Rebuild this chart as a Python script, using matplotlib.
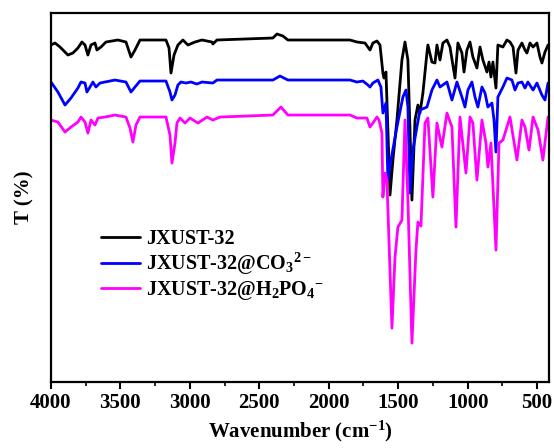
#!/usr/bin/env python3
# -*- coding: utf-8 -*-
"""
JXUST-32 红外光谱图 (FT-IR)
三条曲线: 原始样品, 吸附 CO3 2-, 吸附 H2PO4 -
"""

import matplotlib.pyplot as plt
from matplotlib.ticker import MultipleLocator

# 字体设置 (Times 风格粗体)
plt.rcParams['font.family'] = ['Liberation Serif', 'DejaVu Serif']
plt.rcParams['font.weight'] = 'bold'
plt.rcParams['mathtext.fontset'] = 'custom'
plt.rcParams['mathtext.rm'] = 'Liberation Serif:bold'
plt.rcParams['mathtext.it'] = 'Liberation Serif:bold'
plt.rcParams['mathtext.bf'] = 'Liberation Serif:bold'
plt.rcParams['mathtext.default'] = 'regular'

# ---------------- 数据 (从图中读取, 纵坐标为任意单位) ----------------
wn_black = [4000, 3971, 3935, 3878, 3842, 3806, 3777, 3755, 3734, 3712,
            3683, 3669, 3640, 3604, 3518, 3460, 3424, 3395, 3359, 3172,
            3150, 3136, 3114, 3086, 3050, 3014, 2963, 2913, 2841, 2834,
            2805, 2402, 2373, 2330, 2294, 1847, 1797, 1739, 1703, 1682,
            1653, 1631, 1610, 1602, 1588, 1574, 1559, 1538, 1509, 1473,
            1451, 1430, 1415, 1401, 1379, 1358, 1343, 1322, 1293, 1286,
            1257, 1235, 1221, 1199, 1178, 1149, 1127, 1091, 1070, 1041,
            1026, 1005, 983, 962, 933, 911, 890, 861, 846, 832,
            818, 796, 782, 746, 717, 695, 673, 652, 637, 609,
            587, 573, 551, 529, 501, 479, 465, 443, 421]
t_black = [337, 339, 335, 327, 329, 334, 340, 337, 327, 337,
           339, 332, 335, 340, 342, 340, 325, 332, 342, 342,
           334, 309, 327, 337, 342, 337, 340, 342, 340, 338,
           342, 344, 348, 346, 342, 342, 340, 339, 332, 339,
           341, 337, 309, 304, 310, 252, 187, 222, 262, 322,
           340, 322, 252, 182, 262, 277, 269, 289, 329, 337,
           320, 319, 337, 322, 339, 342, 335, 304, 339, 329,
           310, 332, 340, 325, 314, 335, 322, 310, 320, 305,
           320, 294, 337, 335, 342, 340, 335, 309, 332, 339,
           332, 329, 339, 335, 339, 325, 319, 330, 337]

wn_blue = [4000, 3950, 3899, 3856, 3806, 3784, 3755, 3741, 3719, 3698,
           3676, 3647, 3539, 3460, 3424, 3395, 3359, 3172, 3143, 3129,
           3107, 3086, 3064, 3028, 2992, 2949, 2913, 2834, 2805, 2402,
           2351, 2294, 1847, 1797, 1754, 1718, 1703, 1682, 1646, 1624,
           1610, 1588, 1574, 1552, 1509, 1466, 1444, 1430, 1415, 1394,
           1365, 1343, 1293, 1257, 1221, 1199, 1149, 1113, 1077, 1041,
           1019, 998, 969, 947, 926, 897, 875, 854, 825, 810,
           796, 782, 746, 717, 681, 659, 637, 609, 587, 566,
           529, 501, 465, 443, 421]
t_blue = [300, 290, 277, 284, 294, 300, 299, 290, 295, 300,
          295, 299, 302, 300, 290, 295, 301, 301, 290, 282,
          287, 297, 300, 299, 300, 298, 300, 299, 302, 302,
          306, 302, 302, 300, 301, 297, 295, 299, 302, 295,
          269, 279, 202, 222, 255, 285, 292, 275, 189, 232,
          255, 272, 275, 292, 302, 295, 300, 282, 300, 285,
          275, 292, 300, 285, 275, 295, 289, 275, 279, 262,
          230, 285, 295, 304, 302, 292, 299, 300, 294, 300,
          292, 299, 287, 282, 299]

wn_pink = [4000, 3950, 3899, 3856, 3806, 3784, 3755, 3734, 3712, 3683,
           3662, 3611, 3539, 3460, 3431, 3410, 3388, 3359, 3172, 3143,
           3129, 3107, 3093, 3071, 3035, 2999, 2942, 2877, 2834, 2783,
           2402, 2344, 2294, 1847, 1797, 1725, 1703, 1682, 1653, 1638,
           1617, 1610, 1595, 1581, 1545, 1523, 1502, 1473, 1451, 1430,
           1401, 1372, 1358, 1336, 1307, 1286, 1250, 1221, 1185, 1149,
           1113, 1084, 1055, 1012, 983, 962, 933, 897, 868, 854,
           832, 796, 774, 746, 695, 645, 609, 587, 558, 529,
           493, 458, 421]
t_pink = [262, 260, 250, 255, 260, 265, 260, 249, 262, 257,
          264, 265, 267, 265, 254, 240, 257, 265, 265, 247,
          219, 239, 259, 264, 259, 264, 259, 265, 262, 265,
          267, 275, 267, 267, 264, 264, 255, 259, 265, 262,
          249, 185, 209, 202, 54, 125, 155, 162, 262, 182,
          39, 132, 160, 156, 259, 264, 185, 259, 235, 269,
          255, 155, 265, 209, 265, 259, 202, 262, 239, 215,
          239, 132, 239, 242, 265, 222, 262, 255, 232, 265,
          252, 222, 265]

labels = ['JXUST-32',
          r'JXUST-32@CO$_3$$^{2-}$',
          r'JXUST-32@H$_2$PO$_4$$^{-}$']
colors = ['black', '#0000ff', '#ff00ff']


def main():
    fig = plt.figure(figsize=(5.54, 4.48), dpi=100)
    ax = fig.add_axes([0.092, 0.147, 0.899, 0.824])

    # 绘制三条光谱
    series = [(wn_black, t_black), (wn_blue, t_blue), (wn_pink, t_pink)]
    for (x, y), lab, c in zip(series, labels, colors):
        ax.plot(x, y, color=c, linewidth=2.0, label=lab,
                solid_joinstyle='round', solid_capstyle='round')

    # 坐标轴 (波数从大到小)
    ax.set_xlim(4000, 414)
    ax.set_ylim(0, 369)
    ax.xaxis.set_major_locator(MultipleLocator(500))
    ax.xaxis.set_minor_locator(MultipleLocator(250))
    ax.tick_params(axis='x', which='major', direction='out', length=5,
                   width=1.5, labelsize=15, pad=3)
    ax.tick_params(axis='x', which='minor', direction='out', length=3,
                   width=1.2)
    ax.tick_params(axis='y', which='both', left=False, labelleft=False)
    for sp in ax.spines.values():
        sp.set_linewidth(1.6)

    ax.set_xlabel(r'Wavenumber (cm$^{-1}$)', fontsize=15, fontweight='bold',
                  labelpad=4)
    ax.set_ylabel('T (%)', fontsize=15, fontweight='bold', labelpad=12)

    # 图例
    ax.legend(loc='center left', bbox_to_anchor=(0.085, 0.315), frameon=False,
              fontsize=14.5, handlelength=1.9, handletextpad=0.3,
              labelspacing=0.1, borderaxespad=0)

    fig.savefig('out.png', dpi=100, facecolor='white')
    plt.close(fig)


if __name__ == '__main__':
    main()
